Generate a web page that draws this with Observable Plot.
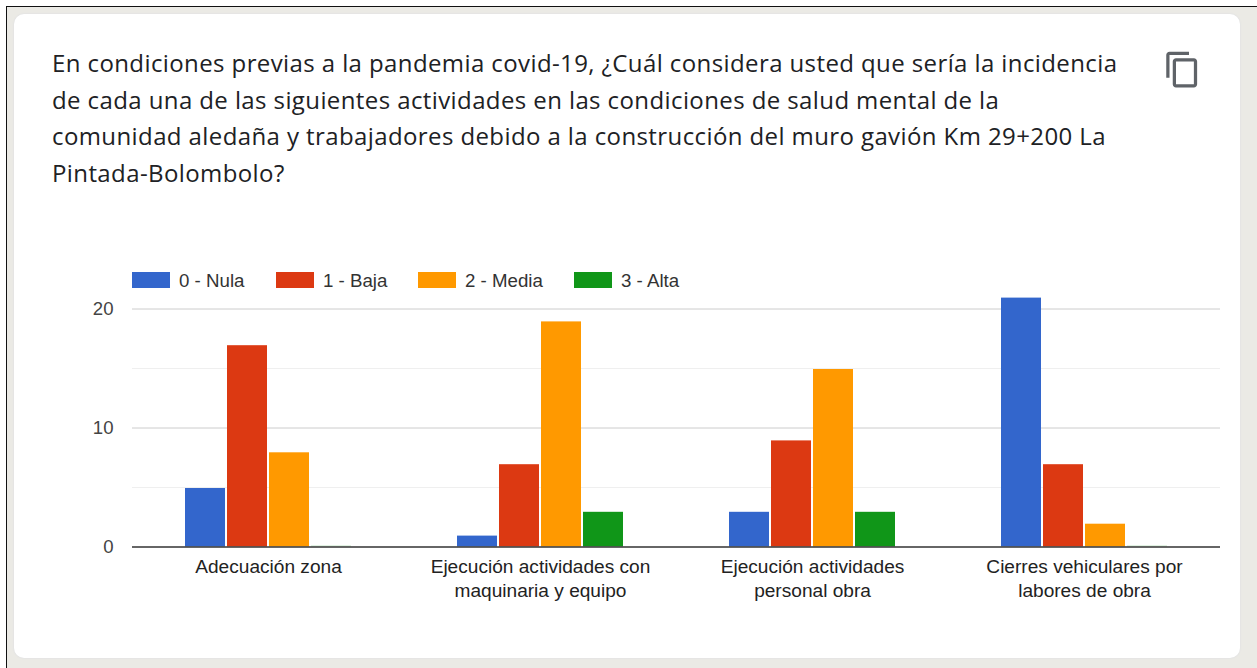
<!DOCTYPE html>
<html lang="es">
<head>
<meta charset="utf-8">
<script src="https://cdn.jsdelivr.net/npm/d3@7"></script>
<script src="https://cdn.jsdelivr.net/npm/@observablehq/plot@0.6"></script>
<style>
html,body{margin:0;padding:0;width:1257px;height:668px;overflow:hidden;background:#fff}
#frame{position:absolute;left:6px;top:6px;width:1251px;height:662px;background:#ebeae5;border-left:1px solid #111;border-top:1px solid #111;box-sizing:border-box}
#card{position:absolute;left:14px;top:14px;width:1226px;height:644px;background:#fff;border-radius:10px;box-shadow:0 0 2px #d8dae0}
#title{position:absolute;left:52px;top:45px;width:1100px;font:400 24px/36.6px "Open Sans",sans-serif;letter-spacing:.4px;color:#202124;margin:0;white-space:nowrap}
#icon{position:absolute;left:1163px;top:50px}
#legend{position:absolute;left:0;top:271px;height:20px;width:800px;font:18.7px/20px "Liberation Sans",Arial,sans-serif;color:#333}
#legend span{position:absolute;top:0;white-space:nowrap}
#legend i{display:inline-block;width:38px;height:16px;vertical-align:-1px;margin-right:9px}
#chart{position:absolute;left:0;top:290px}
</style>
</head>
<body>
<div id="frame"></div>
<div id="card"></div>
<p id="title"></p>
<svg id="icon" width="39" height="39" viewBox="0 0 24 24" fill="#5f6368"><path d="M16 1H4c-1.1 0-2 .9-2 2v14h2V3h12V1zm3 4H8c-1.1 0-2 .9-2 2v14c0 1.100.9 2 2 2h11c1.100 0 2-.9 2-2V7c0-1.100-.9-2-2-2zm0 16H8V7h11v14z"/></svg>
<div id="legend"></div>
<div id="chart"></div>
<script>
const titleLines = [
  "En condiciones previas a la pandemia covid-19, ¿Cuál considera usted que sería la incidencia",
  "de cada una de las siguientes actividades en las condiciones de salud mental de la",
  "comunidad aledaña y trabajadores debido a la construcción del muro gavión Km 29+200 La",
  "Pintada-Bolombolo?"
];
const categories = [
  "Adecuación zona",
  "Ejecución actividades con\nmaquinaria y equipo",
  "Ejecución actividades\npersonal obra",
  "Cierres vehiculares por\nlabores de obra"
];
const seriesNames = ["0 - Nula", "1 - Baja", "2 - Media", "3 - Alta"];
const seriesColors = ["#3366cc", "#dc3912", "#ff9900", "#109618"];
const nula  = [5, 1, 3, 21];
const baja  = [17, 7, 9, 7];
const media = [8, 19, 15, 2];
const alta  = [0, 3, 3, 0];
const majorTicks = [0, 10, 20];
const minorTicks = [5, 15];
const legendLefts = [132, 276, 418, 574];

document.getElementById("title").innerHTML = titleLines.join("<br>");
const legend = document.getElementById("legend");
seriesNames.forEach((name, i) => {
  const s = document.createElement("span");
  s.style.left = legendLefts[i] + "px";
  s.innerHTML = `<i style="background:${seriesColors[i]}"></i>${name}`;
  legend.appendChild(s);
});

const seriesValues = [nula, baja, media, alta];
const rows = seriesNames.flatMap((series, s) =>
  categories.map((category, c) => ({category, series, value: seriesValues[s][c]})));

const chart = Plot.plot({
  width: 1257,
  height: 340,
  marginLeft: 132,
  marginRight: 37,
  marginTop: 6.6,
  marginBottom: 83.5,
  style: {background: "transparent", fontFamily: '"Liberation Sans",Arial,sans-serif'},
  fx: {domain: categories, padding: 0, label: null},
  x: {domain: seriesNames, paddingInner: 0.05, paddingOuter: 1.25, axis: null, label: null},
  y: {domain: [0, 21], label: null},
  color: {domain: seriesNames, range: seriesColors},
  marks: [
    Plot.ruleY(minorTicks, {stroke: "#efefef", strokeWidth: 1}),
    Plot.ruleY(majorTicks.slice(1), {stroke: "#cccccc", strokeWidth: 1}),
    Plot.barY(rows, {fx: "category", x: "series", y: "value", fill: "series", insetTop: 1}),
    Plot.tickY(rows.filter(d => d.value === 0), {fx: "category", x: "series", y: 0, stroke: "series", strokeOpacity: 0.25, strokeWidth: 1, dy: -1}),
    Plot.ruleY([0], {stroke: "#333333", strokeWidth: 1.5}),
    Plot.axisY({ticks: majorTicks, tickSize: 0, tickPadding: 19, fontSize: 18.6, color: "#444", label: null}),
    Plot.axisFx({anchor: "bottom", tickSize: 0, tickPadding: 9, fontSize: 19.1, lineHeight: 1.26, color: "#222", label: null, textOverflow: null})
  ]
});
document.getElementById("chart").appendChild(chart);
</script>
</body>
</html>
